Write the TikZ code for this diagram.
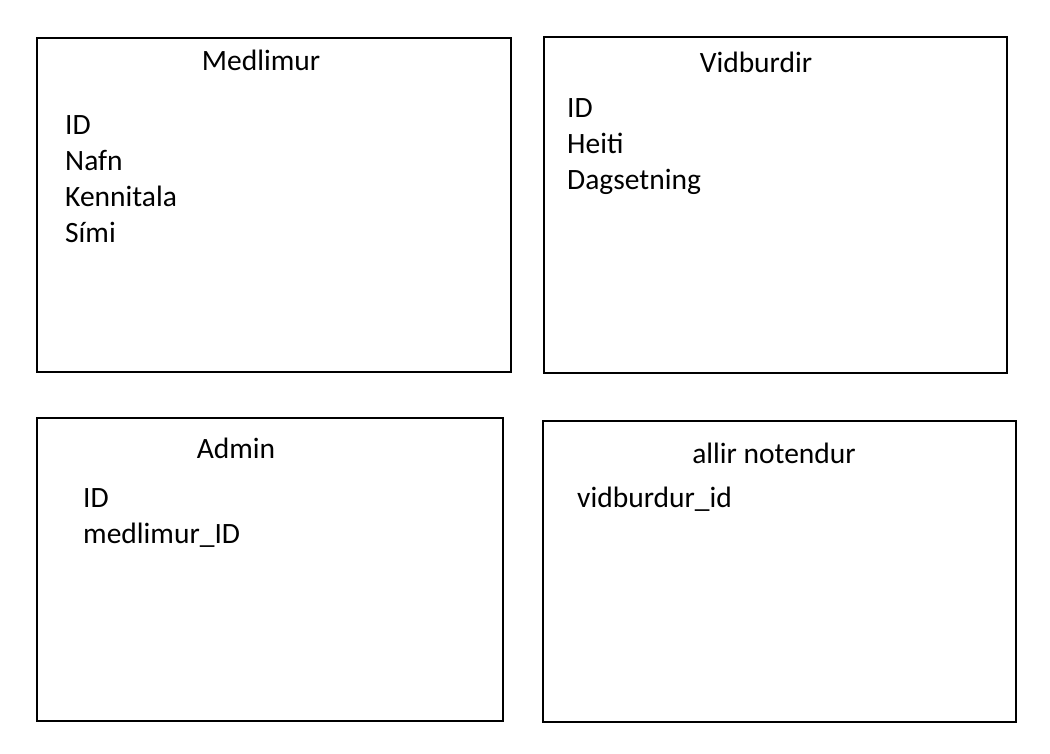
\documentclass[tikz,border=0pt]{standalone}
\usepackage{fontspec}
\setmainfont{Carlito}
\usetikzlibrary{positioning}

\tikzset{
  tablebox/.style={draw=black, line width=2pt, minimum width=#1, inner sep=0pt},
  tabletitle/.style={anchor=base, inner sep=0pt, font=\fontsize{29.5}{36}\selectfont},
  attr/.style={anchor=base west, inner sep=0pt, font=\fontsize{29.5}{36}\selectfont}
}

\begin{document}
\begin{tikzpicture}[x=1pt, y=-1pt]
  \useasboundingbox (0,0) rectangle (1050,754);

  % Medlimur
  \node[tablebox=474pt, minimum height=334pt] (medlimur) at (274,205) {};
  \node[tabletitle] (medlimurtitle) at (261,71) {Medlimur};
  \foreach \t [count=\i] in {ID,Nafn,Kennitala,Sími}
    \node[attr] (medlimur\i) at (65,{135+36*(\i-1)}) {\t};

  % Vidburdir
  \node[tablebox=463pt, minimum height=336pt] (vidburdir) at (775.5,205) {};
  \node[tabletitle] (vidburdirtitle) at (756,73) {Vidburdir};
  \foreach \t [count=\i] in {ID,Heiti,Dagsetning}
    \node[attr] (vidburdir\i) at (567,{118+36*(\i-1)}) {\t};

  % Admin
  \node[tablebox=466pt, minimum height=303pt] (admin) at (270,569.5) {};
  \node[tabletitle] (admintitle) at (236,458) {Admin};
  \node[attr] (admin1) at (83,507) {ID};
  \node[attr] (admin2) at (83,543) {medlimur\_ID};

  % allir notendur
  \node[tablebox=473pt, minimum height=301pt] (allir) at (779.5,571.5) {};
  \node[tabletitle] (allirtitle) at (774,463) {allir notendur};
  \node[attr] (allir1) at (577,507) {vidburdur\_id};
\end{tikzpicture}
\end{document}
